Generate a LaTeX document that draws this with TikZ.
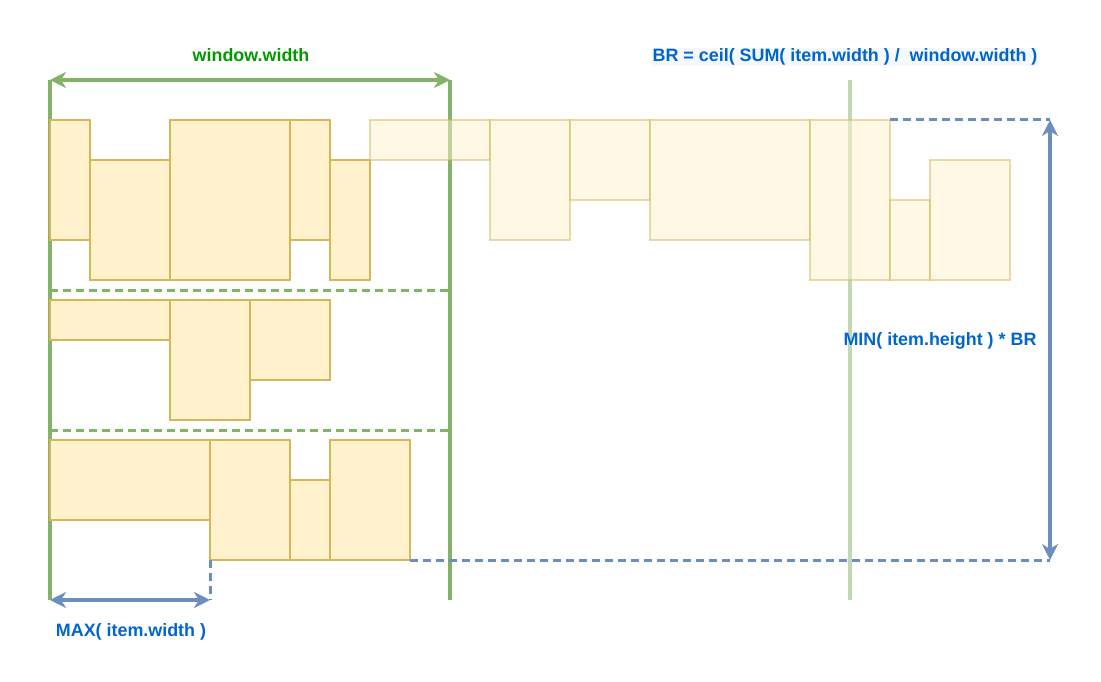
\documentclass[tikz,border=0pt]{standalone}
\usepackage{fontspec}
\setmainfont{Liberation Sans}
\usetikzlibrary{arrows.meta}
\definecolor{itemfill}{HTML}{FFF2CC}
\definecolor{itemline}{HTML}{D6B656}
\definecolor{wingreen}{HTML}{82B366}
\definecolor{dimblue}{HTML}{6C8EBF}
\definecolor{textblue}{HTML}{0066CC}
\definecolor{textgreen}{HTML}{009900}
\definecolor{labelbg}{HTML}{F5F8FC}

\begin{document}
\begin{tikzpicture}[x=1pt,y=-1pt,
    item/.style={draw=itemline,fill=itemfill,line width=2.6pt,inner sep=0pt,outer sep=0pt,anchor=north west},
    faded/.style={item,opacity=0.5},
    win/.style={draw=wingreen,line width=3.6pt},
    rowline/.style={draw=wingreen,line width=3pt,dash pattern=on 8pt off 5pt},
    guide/.style={draw=dimblue,line width=3pt,dash pattern=on 8pt off 5pt},
    dim/.style={draw=dimblue,line width=3.4pt,{Stealth[length=16pt,width=16pt,inset=5pt]}-{Stealth[length=16pt,width=16pt,inset=5pt]}},
    lbl/.style={font=\bfseries\fontsize{17.9}{21}\selectfont,text=textblue,inner sep=1pt}]
  \useasboundingbox (0,0) rectangle (1101,682);

  % window borders
  \coordinate (wl top) at (50,80);
  \coordinate (wl bot) at (50,600);
  \coordinate (wr top) at (450,80);
  \coordinate (wr bot) at (450,600);
  \coordinate (br top) at (850,80);
  \coordinate (br bot) at (850,600);
  \draw[win] (wl top) -- (wl bot);
  \draw[win] (wr top) -- (wr bot);
  \draw[win,opacity=0.5] (br top) -- (br bot);
  \draw[dim,draw=wingreen] (wl top) -- (wr top);
  \node[lbl,text=textgreen] (winlabel) at (251,55) {window.width};

  % row separators
  \coordinate (r1 l) at (50,290);
  \coordinate (r1 r) at (450,290);
  \coordinate (r2 l) at (50,430);
  \coordinate (r2 r) at (450,430);
  \draw[rowline] (r1 l) -- (r1 r);
  \draw[rowline] (r2 l) -- (r2 r);

  % items inside the window
  \foreach \n/\x/\y/\w/\h in {a/50/120/40/120, b/90/160/80/120, c/170/120/120/160,
      d/290/120/40/120, e/330/160/40/120,
      f/50/300/120/40, g/170/300/80/120, h/250/300/80/80,
      i/50/440/160/80, j/210/440/80/120, k/290/480/40/80, l/330/440/80/120}
    \node[item,minimum width=\w pt,minimum height=\h pt] (\n) at (\x,\y) {};

  % items beyond the window
  \foreach \n/\x/\y/\w/\h in {m/370/120/120/40, n/490/120/80/120, o/570/120/80/80,
      p/650/120/160/120, q/810/120/80/160, r/890/200/40/80, s/930/160/80/120}
    \node[faded,minimum width=\w pt,minimum height=\h pt] (\n) at (\x,\y) {};

  % height of the band
  \coordinate (ht top) at (1050,120);
  \coordinate (ht bot) at (1050,560);
  \draw[guide] (q.north east) -- (ht top);
  \draw[guide] (l.south east) -- (ht bot);
  \draw[dim] (ht top) -- (ht bot);
  \node[lbl] (minlabel) at (940,341) {MIN( item.height ) * BR};

  % widest item
  \coordinate (mx l) at (50,600);
  \coordinate (mx r) at (210,600);
  \draw[guide] (j.south west) -- (mx r);
  \draw[dim] (mx l) -- (mx r);
  \node[lbl] (maxlabel) at (131,632) {MAX( item.width )};

  \node[lbl,fill=labelbg] (brlabel) at (845,57) {BR = ceil( SUM( item.width ) /\ \ window.width )};
\end{tikzpicture}
\end{document}
